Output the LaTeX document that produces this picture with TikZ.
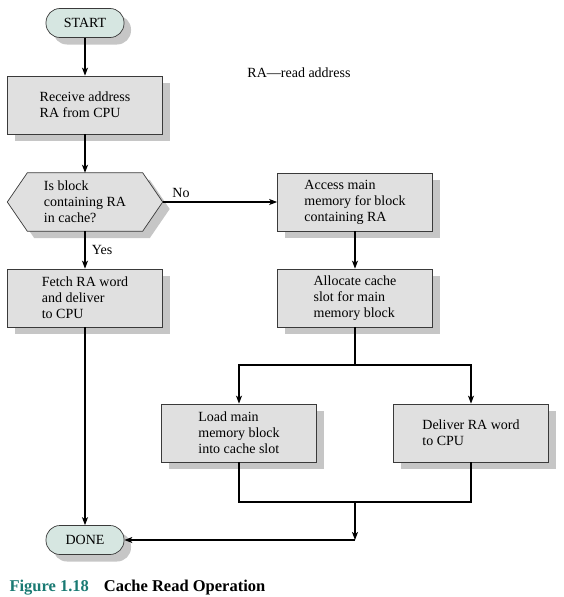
\documentclass[tikz,border=0pt]{standalone}
\usepackage{fontspec}
\setmainfont{Liberation Serif}
\usepackage{tikz}
\usetikzlibrary{arrows.meta, positioning, calc, shadows, backgrounds}
\definecolor{boxgray}{HTML}{E0E0E0}
\definecolor{shadegray}{HTML}{C6C6C6}
\definecolor{termgreen}{HTML}{D6E6E1}
\definecolor{edgegray}{HTML}{3A3A3A}
\definecolor{figteal}{HTML}{1A7A73}

\begin{document}
\begin{tikzpicture}[x=1pt, y=-1pt,
    font=\fontsize{14}{16}\selectfont,
    boxshadow/.style={drop shadow={shadow xshift=7pt, shadow yshift=-7pt, fill=shadegray, opacity=1}},
    procbox/.style={draw=edgegray, line width=0.7pt, fill=boxgray, boxshadow,
      minimum width=155pt, minimum height=58pt, align=left, inner sep=0pt},
    termbox/.style={draw=edgegray, line width=0.7pt, fill=termgreen, boxshadow,
      rounded corners=14pt, minimum width=78pt, minimum height=29pt, inner sep=0pt},
    flow/.style={line width=1.2pt, -{Stealth[length=8pt, width=6pt, inset=2pt]}},
    wire/.style={line width=1.2pt}]
  \useasboundingbox (0,0) rectangle (564,597);

  % Terminals
  \node[termbox] (start) at (85,23) {START};
  \node[termbox] (done) at (85,540) {DONE};

  % Process boxes
  \node[procbox] (recv) at (85,105) {Receive address\\RA from CPU};
  \node[procbox] (fetch) at (85,298) {Fetch RA word\\and deliver\\to CPU};
  \node[procbox] (access) at (355,202) {Access main\\memory for block\\containing RA};
  \node[procbox] (alloc) at (355,298) {Allocate cache\\slot for main\\memory block};
  \node[procbox] (load) at (239,433) {Load main\\memory block\\into cache slot};
  \node[procbox] (deliver) at (471,433) {Deliver RA word\\to CPU};

  % Decision
  \node[minimum width=155pt, minimum height=58pt, align=left, inner sep=0pt] (query) at (85,202)
    {Is block\\containing RA\\in cache?};
  \begin{pgfonlayer}{background}
    \draw[draw=edgegray, line width=0.7pt, fill=boxgray, boxshadow]
      (query.west) -- ([xshift=20pt]query.north west) -- ([xshift=-20pt]query.north east)
      -- (query.east) -- ([xshift=-20pt]query.south east) -- ([xshift=20pt]query.south west) -- cycle;
  \end{pgfonlayer}

  \node (legend) at (299,73) {RA---read address};

  % Connectors
  \draw[flow] (start) -- (recv);
  \draw[flow] (recv) -- (query);
  \draw[flow] (query.east) -- node[pos=0.16, above] {No} (access.west);
  \draw[flow] (query) -- node[midway, right=3pt] {Yes} (fetch);
  \draw[flow] (fetch) -- (done);
  \draw[flow] (access) -- (alloc);

  \coordinate (split) at (355,365);
  \draw[wire] (alloc.south) -- (split);
  \draw[flow] (split) -| (load.north);
  \draw[flow] (split) -| (deliver.north);

  \coordinate (join) at (355,502);
  \coordinate (entry) at (355,540);
  \draw[wire] (load.south) |- (join) -| (deliver.south);
  \draw[flow] (join) -- (entry);
  \draw[flow] (entry) -- (done.east);

  % Caption
  \node[anchor=base west, font=\fontsize{16.5}{18}\selectfont\bfseries] (caption) at (6,591)
    {\textcolor{figteal}{Figure 1.18}\hspace{15pt}Cache Read Operation};
\end{tikzpicture}
\end{document}
